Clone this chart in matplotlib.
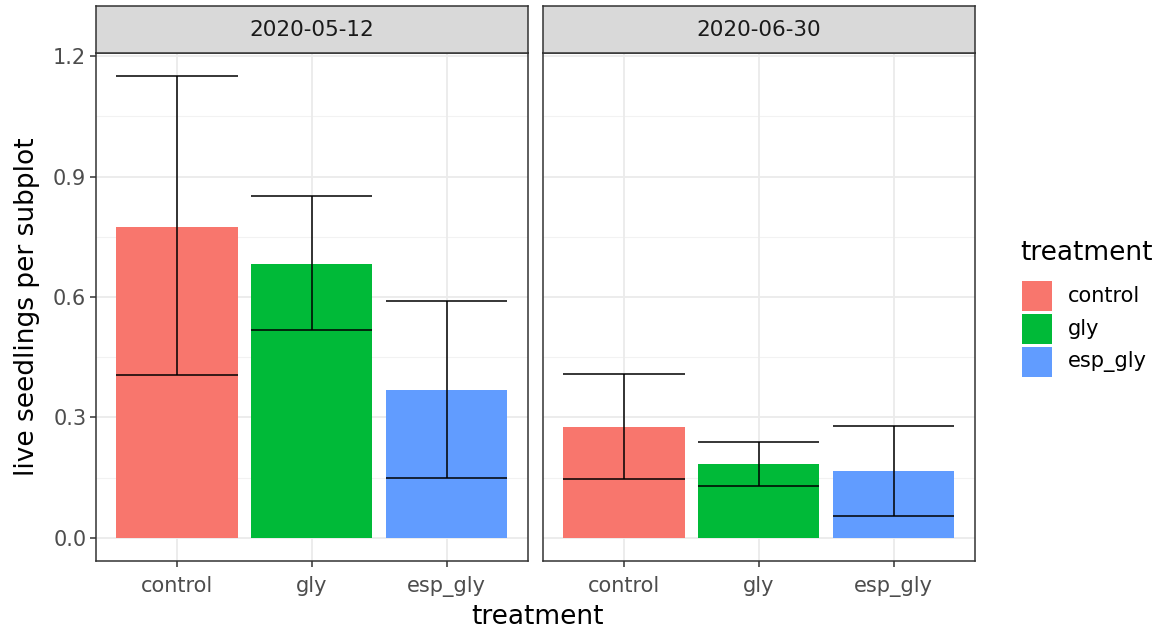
import matplotlib
matplotlib.use("Agg")
import matplotlib.pyplot as plt
from matplotlib.patches import Rectangle

# Data
dates = ["2020-05-12", "2020-06-30"]
treatments = ["control", "gly", "esp_gly"]
colors = ["#F8766D", "#00BA38", "#619CFF"]

mean_0512 = [0.775, 0.683, 0.369]
low_0512 = [0.406, 0.517, 0.150]
high_0512 = [1.150, 0.851, 0.589]

mean_0630 = [0.276, 0.183, 0.166]
low_0630 = [0.146, 0.128, 0.054]
high_0630 = [0.407, 0.239, 0.278]

means = [mean_0512, mean_0630]
lows = [low_0512, low_0630]
highs = [high_0512, high_0630]

yticks = [0.0, 0.3, 0.6, 0.9, 1.2]
minor_yticks = [0.15, 0.45, 0.75, 1.05]

W, H = 1158, 631
fig = plt.figure(figsize=(W / 100, H / 100), dpi=100)

grey20 = "#333333"
tick_col = "#4D4D4D"
x = list(range(1, len(treatments) + 1))

panel_bottom = 1 - 561 / H
panel_h = (561 - 53) / H
panel_w = 431.5 / W
lefts = [96 / W, 543 / W]

for i, date in enumerate(dates):
    ax = fig.add_axes([lefts[i], panel_bottom, panel_w, panel_h])
    ax.set_facecolor("white")

    # grid
    for yv in yticks:
        ax.axhline(yv, color="#EBEBEB", lw=1.3, zorder=0)
    for yv in minor_yticks:
        ax.axhline(yv, color="#F2F2F2", lw=0.8, zorder=0)
    for xv in x:
        ax.axvline(xv, color="#EBEBEB", lw=1.3, zorder=0)

    ax.bar(x, means[i], width=0.9, color=colors, zorder=2)
    ax.vlines(x, lows[i], highs[i], color="black", lw=1.1, zorder=3)
    ax.hlines(lows[i], [v - 0.45 for v in x], [v + 0.45 for v in x], color="black", lw=1.1, zorder=3)
    ax.hlines(highs[i], [v - 0.45 for v in x], [v + 0.45 for v in x], color="black", lw=1.1, zorder=3)

    ax.set_xlim(0.4, 3.6)
    ax.set_ylim(-0.058, 1.208)
    ax.set_xticks(x)
    ax.set_xticklabels(treatments, fontsize=15, color=tick_col)
    ax.set_yticks(yticks)
    ax.set_yticklabels([f"{v:.1f}" for v in yticks], fontsize=15, color=tick_col)
    ax.tick_params(axis="both", length=4, width=1.1, color=grey20, pad=3)
    ax.tick_params(axis="x", pad=6.5)
    if i > 0:
        ax.tick_params(axis="y", left=False, labelleft=False)
    for sp in ax.spines.values():
        sp.set_color(grey20)
        sp.set_linewidth(1.1)
        sp.set_zorder(4)

    # facet strip
    sax = fig.add_axes([lefts[i], 1 - 53 / H, panel_w, 47 / H])
    sax.set_facecolor("#D9D9D9")
    sax.set_xticks([])
    sax.set_yticks([])
    for sp in sax.spines.values():
        sp.set_color(grey20)
        sp.set_linewidth(1.1)
    sax.text(0.5, 0.5, date, transform=sax.transAxes, ha="center", va="center",
             fontsize=15.5, color="#1A1A1A")

fig.text(537 / W, 1 / H, "treatment", ha="center", va="bottom", fontsize=19)
fig.text(27 / W, 1 - 307 / H, "live seedlings per subplot", ha="center", va="center",
         rotation=90, fontsize=19)

# legend, drawn by hand to place the keys like ggplot does
fig.text(1020 / W, 1 - 253 / H, "treatment", ha="left", va="center", fontsize=19)
for k, (lab, col) in enumerate(zip(treatments, colors)):
    top = 281 + k * 33
    fig.add_artist(Rectangle((1022 / W, 1 - (top + 30) / H), 30 / W, 30 / H,
                             transform=fig.transFigure, facecolor=col, edgecolor="none"))
    fig.text(1068 / W, 1 - (top + 15) / H, lab, ha="left", va="center", fontsize=15)

fig.savefig("out.png", dpi=100)
